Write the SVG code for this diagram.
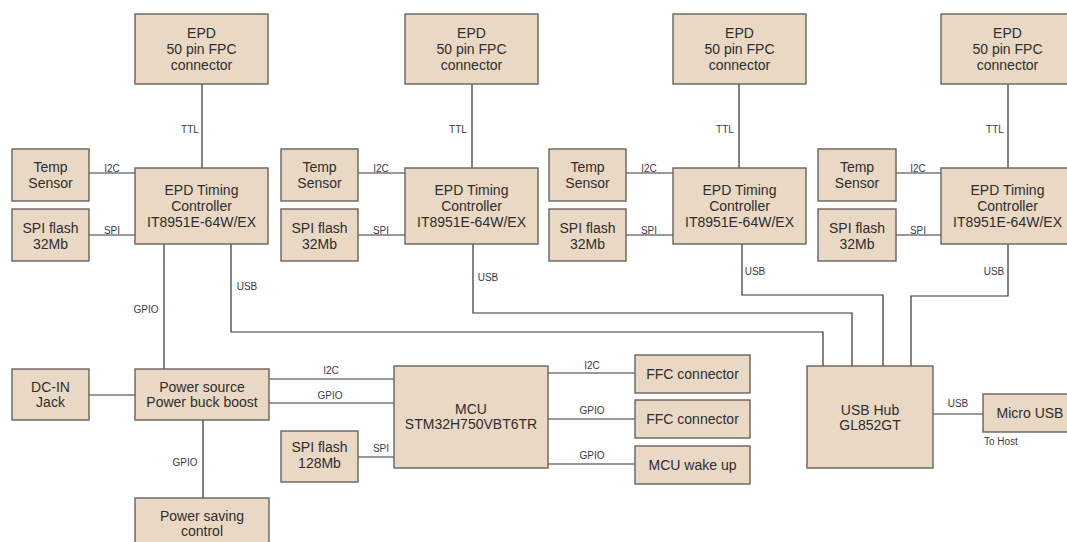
<svg xmlns="http://www.w3.org/2000/svg" width="1067" height="542" viewBox="0 0 1067 542">
<style>
.b{fill:#e8d8c4;stroke:#6a625a;stroke-width:1.4}
.t{font-family:"Liberation Sans",Arial,sans-serif;font-size:14px;fill:#2e2e2e;text-anchor:middle}
.l{font-family:"Liberation Sans",Arial,sans-serif;font-size:10px;fill:#3a3a44;text-anchor:middle}
.c{fill:none;stroke:#333;stroke-width:1.2}
</style>
<rect width="1067" height="542" fill="#fff"/>
<g id="connectors">
<path class="c" d="M202 84V168M89 173H135M89 235H135M164 244V369M231 244V332H823V366"/>
<path class="c" d="M472 84V168M358 173H405M358 235H405M473 244V313H852V366"/>
<path class="c" d="M739 84V168M626 173H673M626 235H673M742 244V295H883V366"/>
<path class="c" d="M1008 84V168M896 173H941M896 235H941M1008 244V296H911V366"/>
<path class="c" d="M89 395H135M269 379H394M269 403H394M203 420V498M358 457H394M548 373H635M548 419H635M548 464H635M933 414H983"/>
<text class="l" x="190" y="133">TTL</text><text class="l" x="112" y="172">I2C</text><text class="l" x="112" y="234">SPI</text><text class="l" x="146" y="313">GPIO</text><text class="l" x="247" y="290">USB</text>
<text class="l" x="458" y="133">TTL</text><text class="l" x="381" y="172">I2C</text><text class="l" x="381" y="234">SPI</text><text class="l" x="488" y="281">USB</text>
<text class="l" x="725" y="133">TTL</text><text class="l" x="649" y="172">I2C</text><text class="l" x="649" y="234">SPI</text><text class="l" x="755" y="275">USB</text>
<text class="l" x="995" y="133">TTL</text><text class="l" x="918" y="172">I2C</text><text class="l" x="918" y="234">SPI</text><text class="l" x="994" y="275">USB</text>
<text class="l" x="331" y="374">I2C</text><text class="l" x="330" y="399">GPIO</text><text class="l" x="185" y="466">GPIO</text><text class="l" x="381" y="452">SPI</text>
<text class="l" x="592" y="369">I2C</text><text class="l" x="592" y="414">GPIO</text><text class="l" x="592" y="459">GPIO</text><text class="l" x="958" y="407">USB</text>
<text class="l" x="984" y="445" style="text-anchor:start">To Host</text>
</g>
<g id="epd1"><rect class="b" x="135" y="14" width="133" height="70"/><text class="t" x="201.5" y="38">EPD</text><text class="t" x="201.5" y="54">50 pin FPC</text><text class="t" x="201.5" y="70">connector</text></g>
<g id="epd2"><rect class="b" x="405" y="14" width="133" height="70"/><text class="t" x="471.5" y="38">EPD</text><text class="t" x="471.5" y="54">50 pin FPC</text><text class="t" x="471.5" y="70">connector</text></g>
<g id="epd3"><rect class="b" x="673" y="14" width="133" height="70"/><text class="t" x="739.5" y="38">EPD</text><text class="t" x="739.5" y="54">50 pin FPC</text><text class="t" x="739.5" y="70">connector</text></g>
<g id="epd4"><rect class="b" x="941" y="14" width="133" height="70"/><text class="t" x="1007.5" y="38">EPD</text><text class="t" x="1007.5" y="54">50 pin FPC</text><text class="t" x="1007.5" y="70">connector</text></g>
<g id="ctrl1"><rect class="b" x="135" y="168" width="133" height="76"/><text class="t" x="201.5" y="195">EPD Timing</text><text class="t" x="201.5" y="211">Controller</text><text class="t" x="201.5" y="227">IT8951E-64W/EX</text></g>
<g id="ctrl2"><rect class="b" x="405" y="168" width="133" height="76"/><text class="t" x="471.5" y="195">EPD Timing</text><text class="t" x="471.5" y="211">Controller</text><text class="t" x="471.5" y="227">IT8951E-64W/EX</text></g>
<g id="ctrl3"><rect class="b" x="673" y="168" width="133" height="76"/><text class="t" x="739.5" y="195">EPD Timing</text><text class="t" x="739.5" y="211">Controller</text><text class="t" x="739.5" y="227">IT8951E-64W/EX</text></g>
<g id="ctrl4"><rect class="b" x="941" y="168" width="133" height="76"/><text class="t" x="1007.5" y="195">EPD Timing</text><text class="t" x="1007.5" y="211">Controller</text><text class="t" x="1007.5" y="227">IT8951E-64W/EX</text></g>
<g id="temp1"><rect class="b" x="12" y="149" width="77" height="52"/><text class="t" x="50.5" y="172">Temp</text><text class="t" x="50.5" y="188">Sensor</text></g>
<g id="temp2"><rect class="b" x="281" y="149" width="77" height="52"/><text class="t" x="319.5" y="172">Temp</text><text class="t" x="319.5" y="188">Sensor</text></g>
<g id="temp3"><rect class="b" x="549" y="149" width="77" height="52"/><text class="t" x="587.5" y="172">Temp</text><text class="t" x="587.5" y="188">Sensor</text></g>
<g id="temp4"><rect class="b" x="818" y="149" width="78" height="52"/><text class="t" x="857" y="172">Temp</text><text class="t" x="857" y="188">Sensor</text></g>
<g id="flash1"><rect class="b" x="12" y="209" width="77" height="52"/><text class="t" x="50.5" y="233">SPI flash</text><text class="t" x="50.5" y="249">32Mb</text></g>
<g id="flash2"><rect class="b" x="281" y="209" width="77" height="52"/><text class="t" x="319.5" y="233">SPI flash</text><text class="t" x="319.5" y="249">32Mb</text></g>
<g id="flash3"><rect class="b" x="549" y="209" width="77" height="52"/><text class="t" x="587.5" y="233">SPI flash</text><text class="t" x="587.5" y="249">32Mb</text></g>
<g id="flash4"><rect class="b" x="818" y="209" width="78" height="52"/><text class="t" x="857" y="233">SPI flash</text><text class="t" x="857" y="249">32Mb</text></g>
<g id="dcin"><rect class="b" x="12" y="369" width="77" height="51"/><text class="t" x="50.5" y="392">DC-IN</text><text class="t" x="50.5" y="407">Jack</text></g>
<g id="power"><rect class="b" x="135" y="369" width="134" height="51"/><text class="t" x="202" y="392">Power source</text><text class="t" x="202" y="407">Power buck boost</text></g>
<g id="powersave"><rect class="b" x="135" y="498" width="134" height="60"/><text class="t" x="202" y="521">Power saving</text><text class="t" x="202" y="536">control</text></g>
<g id="flash128"><rect class="b" x="281" y="431" width="77" height="51"/><text class="t" x="319.5" y="452">SPI flash</text><text class="t" x="319.5" y="468">128Mb</text></g>
<g id="mcu"><rect class="b" x="394" y="366" width="154" height="102"/><text class="t" x="471" y="414">MCU</text><text class="t" x="471" y="429">STM32H750VBT6TR</text></g>
<g id="ffc1"><rect class="b" x="635" y="355" width="115" height="38"/><text class="t" x="692.5" y="379">FFC connector</text></g>
<g id="ffc2"><rect class="b" x="635" y="400" width="115" height="38"/><text class="t" x="692.5" y="424">FFC connector</text></g>
<g id="wake"><rect class="b" x="635" y="446" width="115" height="38"/><text class="t" x="692.5" y="470">MCU wake up</text></g>
<g id="hub"><rect class="b" x="807" y="366" width="126" height="102"/><text class="t" x="870" y="415">USB Hub</text><text class="t" x="870" y="430">GL852GT</text></g>
<g id="microusb"><rect class="b" x="983" y="394" width="98" height="38"/><text class="t" x="1030" y="418">Micro USB</text></g>
</svg>
